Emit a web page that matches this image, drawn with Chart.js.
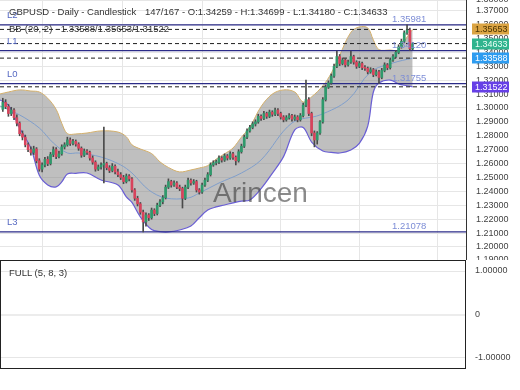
<!DOCTYPE html>
<html><head><meta charset="utf-8">
<script src="https://cdn.jsdelivr.net/npm/chart.js@4.4.1/dist/chart.umd.min.js"></script>
<style>
html,body{margin:0;padding:0;background:#fff;width:520px;height:390px;overflow:hidden;font-family:"Liberation Sans",Arial,sans-serif;}
canvas{position:absolute;left:0;}
#main{top:0;}
#sub{top:260px;}
.t{position:absolute;white-space:pre;color:#333;font-size:9.5px;line-height:10px;}
.wm{position:absolute;left:213px;top:179px;font-size:28px;line-height:28px;color:rgba(60,60,60,0.6);white-space:pre;}
</style></head><body>
<canvas id="main" width="520" height="260"></canvas>
<canvas id="sub" width="520" height="130"></canvas>
<div class="wm">Arincen</div>
<div class="t" style="left:9px;top:7px">GBPUSD - Daily - Candlestick</div>
<div class="t" style="left:145px;top:7px">147/167 - O:1.34259 - H:1.34699 - L:1.34180 - C:1.34633</div>
<div class="t" style="left:9px;top:24px">BB-(20, 2) - 1.33588/1.35653/1.31522</div>
<div class="t" style="left:9px;top:268px">FULL (5, 8, 3)</div>
<script>
// ---- data ----
const opens = [1.2990,1.3040,1.3010,1.2960,1.2985,1.2930,1.2890,1.2815,1.2790,1.2735,
1.2700,1.2680,1.2705,1.2620,1.2560,1.2590,1.2630,1.2600,1.2665,1.2700,
1.2650,1.2670,1.2720,1.2735,1.2770,1.2745,1.2760,1.2740,1.2710,1.2660,
1.2690,1.2680,1.2640,1.2610,1.2560,1.2575,1.2590,1.2600,1.2570,1.2550,
1.2580,1.2540,1.2520,1.2500,1.2470,1.2510,1.2490,1.2410,1.2350,1.2310,
1.2250,1.2180,1.2230,1.2210,1.2265,1.2240,1.2300,1.2325,1.2355,1.2430,
1.2470,1.2445,1.2460,1.2430,1.2420,1.2350,1.2430,1.2480,1.2460,1.2470,
1.2410,1.2395,1.2445,1.2480,1.2520,1.2590,1.2605,1.2610,1.2640,1.2625,
1.2655,1.2640,1.2670,1.2645,1.2620,1.2685,1.2725,1.2790,1.2835,1.2860,
1.2885,1.2900,1.2940,1.2925,1.2960,1.2940,1.2970,1.2955,1.2985,1.2960,
1.2935,1.2915,1.2930,1.2945,1.2920,1.2935,1.2915,1.2945,1.3020,1.3060,
1.2960,1.2820,1.2770,1.2820,1.2900,1.3060,1.3150,1.3180,1.3230,1.3300,
1.3370,1.3320,1.3345,1.3310,1.3330,1.3370,1.3330,1.3300,1.3320,1.3290,
1.3285,1.3260,1.3275,1.3240,1.3260,1.3220,1.3270,1.3310,1.3290,1.3345,
1.3370,1.3400,1.3440,1.3480,1.3540,1.3560,1.34259];
const highs = [1.3070,1.3060,1.3025,1.3005,1.2995,1.2950,1.2900,1.2835,1.2805,1.2750,
1.2720,1.2725,1.2715,1.2635,1.2605,1.2645,1.2650,1.2680,1.2720,1.2715,
1.2690,1.2735,1.2750,1.2790,1.2785,1.2775,1.2770,1.2750,1.2720,1.2705,
1.2700,1.2690,1.2655,1.2620,1.2590,1.2605,1.2863,1.2610,1.2585,1.2600,
1.2590,1.2560,1.2535,1.2515,1.2525,1.2520,1.2500,1.2420,1.2365,1.2320,
1.2265,1.2245,1.2240,1.2280,1.2275,1.2315,1.2340,1.2370,1.2445,1.2490,
1.2480,1.2475,1.2470,1.2445,1.2430,1.2445,1.2495,1.2490,1.2485,1.2480,
1.2420,1.2460,1.2495,1.2535,1.2605,1.2620,1.2625,1.2655,1.2650,1.2670,
1.2665,1.2685,1.2680,1.2655,1.2700,1.2740,1.2805,1.2850,1.2875,1.2900,
1.2915,1.2955,1.2950,1.2975,1.2970,1.2985,1.2980,1.3000,1.2995,1.2970,
1.2945,1.2945,1.2960,1.2955,1.2950,1.2945,1.2960,1.3035,1.3200,1.3075,
1.2970,1.2835,1.2830,1.2910,1.3075,1.3165,1.3195,1.3245,1.3315,1.3410,
1.3385,1.3360,1.3355,1.3345,1.3410,1.3380,1.3340,1.3335,1.3330,1.3305,
1.3295,1.3290,1.3285,1.3275,1.3270,1.3285,1.3325,1.3320,1.3360,1.3385,
1.3415,1.3455,1.3495,1.3555,1.3598,1.3575,1.34699];
const lows = [1.2975,1.2995,1.2940,1.2945,1.2915,1.2870,1.2800,1.2770,1.2720,1.2685,
1.2660,1.2665,1.2605,1.2545,1.2540,1.2575,1.2585,1.2590,1.2650,1.2635,
1.2640,1.2660,1.2705,1.2725,1.2730,1.2735,1.2725,1.2695,1.2645,1.2650,
1.2665,1.2625,1.2595,1.2545,1.2550,1.2560,1.2460,1.2555,1.2535,1.2540,
1.2525,1.2505,1.2485,1.2455,1.2460,1.2475,1.2395,1.2335,1.2295,1.2235,
1.2108,1.2150,1.2190,1.2200,1.2225,1.2230,1.2290,1.2310,1.2345,1.2420,
1.2430,1.2435,1.2420,1.2405,1.2280,1.2340,1.2420,1.2445,1.2450,1.2395,
1.2380,1.2385,1.2435,1.2470,1.2510,1.2580,1.2590,1.2600,1.2610,1.2615,
1.2625,1.2630,1.2630,1.2590,1.2610,1.2675,1.2715,1.2780,1.2825,1.2850,
1.2870,1.2890,1.2910,1.2915,1.2925,1.2930,1.2940,1.2945,1.2945,1.2920,
1.2900,1.2905,1.2920,1.2905,1.2910,1.2900,1.2905,1.2935,1.3010,1.2945,
1.2800,1.2720,1.2740,1.2810,1.2890,1.3050,1.3140,1.3170,1.3220,1.3290,
1.3305,1.3310,1.3295,1.3300,1.3320,1.3315,1.3285,1.3290,1.3275,1.3270,
1.3245,1.3250,1.3225,1.3230,1.3176,1.3210,1.3260,1.3275,1.3280,1.3335,
1.3360,1.3390,1.3430,1.3470,1.3530,1.3415,1.34180];
const closes = [1.3040,1.3010,1.2960,1.2985,1.2930,1.2890,1.2815,1.2790,1.2735,1.2700,
1.2680,1.2705,1.2620,1.2560,1.2590,1.2630,1.2600,1.2665,1.2700,1.2650,
1.2670,1.2720,1.2735,1.2770,1.2745,1.2760,1.2740,1.2710,1.2660,1.2690,
1.2680,1.2640,1.2610,1.2560,1.2575,1.2590,1.2600,1.2570,1.2550,1.2580,
1.2540,1.2520,1.2500,1.2470,1.2510,1.2490,1.2410,1.2350,1.2310,1.2250,
1.2180,1.2230,1.2210,1.2265,1.2240,1.2300,1.2325,1.2355,1.2430,1.2470,
1.2445,1.2460,1.2430,1.2420,1.2350,1.2430,1.2480,1.2460,1.2470,1.2410,
1.2395,1.2445,1.2480,1.2520,1.2590,1.2605,1.2610,1.2640,1.2625,1.2655,
1.2640,1.2670,1.2645,1.2620,1.2685,1.2725,1.2790,1.2835,1.2860,1.2885,
1.2900,1.2940,1.2925,1.2960,1.2940,1.2970,1.2955,1.2985,1.2960,1.2935,
1.2915,1.2930,1.2945,1.2920,1.2935,1.2915,1.2945,1.3020,1.3060,1.2960,
1.2820,1.2770,1.2820,1.2900,1.3060,1.3150,1.3180,1.3230,1.3300,1.3370,
1.3320,1.3345,1.3310,1.3330,1.3370,1.3330,1.3300,1.3320,1.3290,1.3285,
1.3260,1.3275,1.3240,1.3260,1.3220,1.3270,1.3310,1.3290,1.3345,1.3370,
1.3400,1.3440,1.3480,1.3540,1.3560,1.3426,1.34633];

// Bollinger band (20,2) read at sampled bar positions
const bandIdx = [-1,2,6,10,13,16,19,21,23,26,30,35,41,44,46,49,53,56,59,63,67,70,73,76,79,82,85,88,92,96,100,104,107,110,114,117,120,124,127,130,132,134,138,141,144,146];
const bbUpper = [1.3101,1.3115,1.3130,1.3122,1.3115,1.3070,1.2990,1.2890,1.2815,1.2813,1.2820,1.2835,1.2827,1.2793,1.2735,1.2705,1.2672,1.2612,1.2572,1.2540,1.2554,1.2568,1.2585,1.2632,1.2670,1.2712,1.2790,1.2863,1.3010,1.3100,1.3130,1.3115,1.3043,1.3080,1.3160,1.3250,1.3380,1.3545,1.3583,1.3576,1.3490,1.3420,1.3417,1.3417,1.3511,1.35653];
const bbLower = [1.3058,1.3020,1.2856,1.2710,1.2515,1.2446,1.2432,1.2468,1.2525,1.2530,1.2532,1.2482,1.2446,1.2360,1.2320,1.2216,1.2125,1.2110,1.2108,1.2122,1.2150,1.2210,1.2266,1.2288,1.2302,1.2317,1.2330,1.2338,1.2420,1.2530,1.2650,1.2842,1.2860,1.2755,1.2690,1.2680,1.2676,1.2698,1.2745,1.2870,1.3115,1.3180,1.3201,1.3173,1.3160,1.31522];
const midIdx = [-1,6,13,18,23,27,35,42,46,52,58,66,70,77,85,92,103,113,123,131,139,146];
const bbMid = [1.3014,1.2950,1.2856,1.2748,1.2676,1.2676,1.2647,1.2590,1.2532,1.2410,1.2352,1.2352,1.2388,1.2460,1.2532,1.2626,1.2892,1.2950,1.3058,1.3259,1.3324,1.33588];

// horizontal levels
const levelNames  = ['L2','L1','L0','L3'];
const levelValues = [1.35981,1.34120,1.31755,1.21078];
const dashValues  = [1.35653,1.34633,1.33588,1.31522];
const badgeValues = [1.35653,1.34633,1.33588,1.31522];
const badgeFill   = ['#dba443','#2fb48e','#2e9cf0','#6640e6'];
const badgeText   = ['#4a3300','#eafff6','#ffffff','#ffffff'];

// axis ticks
const yTicks = [1.20,1.21,1.22,1.23,1.24,1.25,1.26,1.27,1.28,1.29,1.30,1.31,1.32,1.33,1.34,1.35,1.36,1.37];
const yMin = 1.1906, yMax = 1.3777;
const xGrid = [0,28,57,85,113,141];
const xMin = -1, xMax = 165;
const subTicks = [-1,0,1];

// ---- chart ----
const FONT = "'Liberation Sans', Arial, sans-serif";
Chart.defaults.font.family = FONT;
Chart.defaults.font.size = 9;
Chart.defaults.color = '#444';
const GREEN = '#2f9a6c', RED = '#d8435c', WICK = '#4a4a4a';

const bodyColors = closes.map((c,i)=> c >= opens[i] ? GREEN : RED);
const pts = (xs, ys) => xs.map((x,i)=>({x, y: ys[i]}));

const datasets = [
  {type:'line', data: pts(bandIdx, bbUpper), borderColor:'#d4b06c', borderWidth:1, pointRadius:0,
   fill:1, backgroundColor:'rgba(128,128,128,0.5)', tension:0.35, order:9},
  {type:'line', data: pts(bandIdx, bbLower), borderColor:'#6a5fd4', borderWidth:1.2, pointRadius:0,
   fill:false, tension:0.35, order:8},
  {type:'line', data: pts(midIdx, bbMid), borderColor:'#7f9ecb', borderWidth:1, pointRadius:0,
   fill:false, tension:0.35, order:7},
];
levelValues.forEach(v => datasets.push({type:'line', data:[{x:xMin,y:v},{x:xMax,y:v}],
  borderColor:'#2b2b88', borderWidth:1.2, pointRadius:0, fill:false, order:3}));
dashValues.forEach(v => datasets.push({type:'line', data:[{x:xMin,y:v},{x:xMax,y:v}],
  borderColor:'#1e1e1e', borderWidth:1, borderDash:[4,3], pointRadius:0, fill:false, order:2}));
datasets.push({type:'bar', data: opens.map((o,i)=>({x:i, y:[lows[i], highs[i]]})),
  backgroundColor: WICK, barThickness:1, grouped:false, order:1});
datasets.push({type:'bar', data: opens.map((o,i)=>({x:i, y:[o, closes[i]]})),
  backgroundColor: bodyColors, barThickness:2, minBarLength:1, grouped:false, order:0});

const levelLabels = {
  id:'levelLabels',
  afterDatasetsDraw(chart){
    const ctx = chart.ctx, y = chart.scales.y;
    ctx.save();
    ctx.font = '9.5px ' + FONT;
    ctx.textBaseline = 'middle';
    levelValues.forEach((v,i)=>{
      const py = y.getPixelForValue(v);
      ctx.fillStyle = '#5669c2';
      ctx.fillText(levelNames[i], 7, py - 9.5);
      ctx.fillStyle = '#7d8dd6';
      ctx.fillText(v.toFixed(5), 392, py - 5.5);
    });
    ctx.restore();
  },
  afterDraw(chart){
    const ctx = chart.ctx, y = chart.scales.y;
    ctx.save();
    ctx.font = '9px ' + FONT;
    ctx.textBaseline = 'middle';
    badgeValues.forEach((v,i)=>{
      const py = y.getPixelForValue(v);
      ctx.fillStyle = badgeFill[i];
      ctx.fillRect(472, Math.round(py) - 5.5, 37, 11);
      ctx.fillStyle = badgeText[i];
      ctx.fillText(v.toFixed(5), 475, py + 0.5);
    });
    ctx.restore();
  }
};

new Chart(document.getElementById('main'), {
  type:'bar',
  data:{datasets},
  options:{
    responsive:false, animation:false, events:[], devicePixelRatio:1,
    layout:{padding:0},
    plugins:{legend:{display:false}, tooltip:{enabled:false}},
    scales:{
      x:{type:'linear', min:xMin, max:xMax, offset:false,
         afterBuildTicks:s=>{ s.ticks = xGrid.map(v=>({value:v})); },
         afterFit:s=>{ s.height = 0; },
         ticks:{display:false}, grid:{color:'#e6e6e6', drawTicks:false}, border:{display:false}},
      y:{type:'linear', position:'right', min:yMin, max:yMax,
         afterBuildTicks:s=>{ s.ticks = [yMin, ...yTicks, yMax].map(v=>({value:v})); },
         afterFit:s=>{ s.width = 54; s.paddingTop = 0; s.paddingBottom = 0; },
         ticks:{autoSkip:false, padding:10, color:'#444', font:{size:9},
                callback:v=> (Math.round(v*100)/100).toFixed(5)},
         grid:{color:'#e6e6e6', drawTicks:false},
         border:{display:true, color:'#333', width:1}}
    }
  },
  plugins:[levelLabels]
});

const boxPlugin = {
  id:'box',
  afterDraw(chart){
    const a = chart.chartArea, ctx = chart.ctx;
    ctx.save();
    ctx.strokeStyle = '#222'; ctx.lineWidth = 1;
    ctx.strokeRect(Math.round(a.left)+0.5, Math.round(a.top)+0.5, Math.round(a.right-a.left)-1, Math.round(a.bottom-a.top)-1);
    ctx.restore();
  }
};

new Chart(document.getElementById('sub'), {
  type:'line',
  data:{datasets:[{data:[], pointRadius:0}]},
  options:{
    responsive:false, animation:false, events:[], devicePixelRatio:1,
    layout:{padding:{top:0,bottom:21,left:0,right:0}},
    plugins:{legend:{display:false}, tooltip:{enabled:false}},
    scales:{
      x:{type:'linear', min:xMin, max:xMax, display:false},
      y:{type:'linear', position:'right', min:-1.253, max:1.253,
         afterBuildTicks:s=>{ s.ticks = subTicks.map(v=>({value:v})); },
         afterFit:s=>{ s.width = 54; s.paddingTop = 0; s.paddingBottom = 0; },
         ticks:{autoSkip:false, padding:9, color:'#444', font:{size:9},
                callback:v=> v === 0 ? '0' : v.toFixed(5)},
         grid:{color:c=> c.tick && c.tick.value === 0 ? '#ececec' : '#e6e6e6',
               lineWidth:c=> c.tick && c.tick.value === 0 ? 2 : 1, drawTicks:false},
         border:{display:false}}
    }
  },
  plugins:[boxPlugin]
});
</script>
</body></html>
